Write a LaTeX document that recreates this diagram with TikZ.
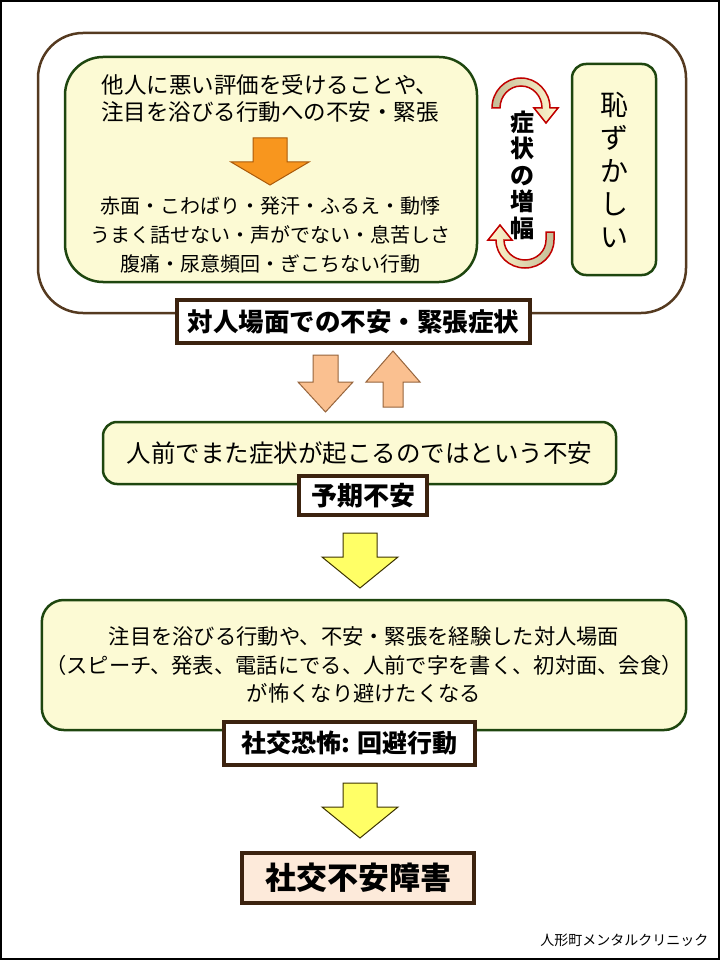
\documentclass[tikz,border=0pt]{standalone}
\usepackage{fontspec}
\setmainfont{Noto Sans CJK JP}
\usepackage{xcolor}
\definecolor{boxfill}{RGB}{252,250,212}
\definecolor{boxline}{RGB}{30,70,15}
\definecolor{outerline}{RGB}{85,58,32}
\definecolor{labelline}{RGB}{60,35,15}
\definecolor{peach}{RGB}{250,192,144}
\definecolor{peachline}{RGB}{150,100,60}
\definecolor{orangefill}{RGB}{248,150,30}
\definecolor{orangeline}{RGB}{170,90,10}
\definecolor{arrowyellow}{RGB}{255,255,102}
\definecolor{yellowline}{RGB}{60,50,0}
\definecolor{finalfill}{RGB}{253,234,218}
\definecolor{curvered}{RGB}{192,0,0}
\definecolor{curvelight}{RGB}{255,246,205}
\definecolor{curvetan}{RGB}{196,189,151}

\begin{document}
\begin{tikzpicture}[x=1pt,y=-1pt,
	greenbox/.style={draw=boxline,fill=boxfill,line width=2.5pt},
	labelbox/.style={draw=labelline,fill=white,line width=3.5pt,inner sep=0pt},
	blockarrow/.style={line width=1pt,line join=miter},
	curvearrow/.style={draw=curvered,line width=1.5pt,line join=miter}]
	\useasboundingbox (0,0) rectangle (720,960);
	\draw[line width=1.5pt] (1,1) rectangle (719,959);

	\node[draw=outerline,line width=2.5pt,rounded corners=45pt,minimum width=648,minimum height=280] (scene) at (362,173) {};
	\node[greenbox,rounded corners=38pt,minimum width=412,minimum height=225] (trigger) at (271,169.5) {};
	\node[font=\fontsize{22.5}{27}\selectfont,align=center] (fear) at (270,98.5) {他人に悪い評価を受けることや、\\注目を浴びる行動への不安・緊張};
	\draw[blockarrow,fill=orangefill,draw=orangeline] (253,138) -- (287,138) -- (287,162) -- (309,162) -- (270,185) -- (231,162) -- (253,162) -- cycle;
	\node[font=\fontsize{20}{29}\selectfont,align=center] (signs) at (270,235) {赤面・こわばり・発汗・ふるえ・動悸\\うまく話せない・声がでない・息苦しさ\\腹痛・尿意頻回・ぎこちない行動};

	\draw[curvearrow,left color=curvetan,right color=curvelight] (492,108) arc[start angle=180,end angle=360,x radius=29,y radius=30] -- (558,108) -- (546,123) -- (534,108) -- (542,108) arc[start angle=0,end angle=-180,x radius=21,y radius=22] -- cycle;
	\draw[curvearrow,left color=curvelight,right color=curvetan] (554,232) -- (554,240) arc[start angle=0,end angle=180,x radius=29,y radius=28] -- (488,240) -- (500,225) -- (512,240) -- (504,240) arc[start angle=180,end angle=0,x radius=21,y radius=20] -- (546,232) -- cycle;
	\node[font=\bfseries\fontsize{24}{26.5}\selectfont,align=center] (amplify) at (522,175) {症\\状\\の\\増\\幅};

	\node[greenbox,rounded corners=14pt,minimum width=84,minimum height=211,font=\fontsize{28}{33}\selectfont,align=center] (shame) at (614,169.5) {恥\\ず\\か\\し\\い};

	\node[labelbox,minimum width=353,minimum height=43,font=\bfseries\fontsize{25.5}{25.5}\selectfont] (symptoms) at (353.5,321.5) {対人場面での不安・緊張症状};

	\draw[blockarrow,fill=peach,draw=peachline] (313,355) -- (338,355) -- (338,382) -- (353,382) -- (325.5,412) -- (298,382) -- (313,382) -- cycle;
	\draw[blockarrow,fill=peach,draw=peachline] (383,407) -- (403,407) -- (403,382) -- (420,382) -- (393,351) -- (366,382) -- (383,382) -- cycle;

	\node[greenbox,rounded corners=14pt,minimum width=513,minimum height=62,font=\fontsize{24.5}{24.5}\selectfont] (anticip) at (359.5,453) {人前でまた症状が起こるのではという不安};
	\node[labelbox,minimum width=128,minimum height=39,font=\bfseries\fontsize{26}{26}\selectfont] (anticiplabel) at (363,495.5) {予期不安};

	\draw[blockarrow,fill=arrowyellow,draw=yellowline] (343,533) -- (377,533) -- (377,557) -- (398,557) -- (360,588) -- (322,557) -- (343,557) -- cycle;

	\node[greenbox,rounded corners=22pt,minimum width=644,minimum height=130,font=\fontsize{21.3}{28.5}\selectfont,align=center] (avoid) at (364,665) {注目を浴びる行動や、不安・緊張を経験した対人場面\\（スピーチ、発表、電話にでる、人前で字を書く、初対面、会食）\\が怖くなり避けたくなる};
	\node[labelbox,minimum width=251,minimum height=43,font=\bfseries\fontsize{25}{25}\selectfont] (avoidlabel) at (349.5,743.5) {社交恐怖: 回避行動};

	\draw[blockarrow,fill=arrowyellow,draw=yellowline] (343,783) -- (377,783) -- (377,807) -- (398,807) -- (360,838) -- (322,807) -- (343,807) -- cycle;

	\node[labelbox,fill=finalfill,line width=4pt,minimum width=232,minimum height=50,font=\bfseries\fontsize{31}{31}\selectfont] (disorder) at (358,878) {社交不安障害};

	\node[font=\fontsize{14}{14}\selectfont,anchor=east] (clinic) at (712,940) {人形町メンタルクリニック};
\end{tikzpicture}
\end{document}
